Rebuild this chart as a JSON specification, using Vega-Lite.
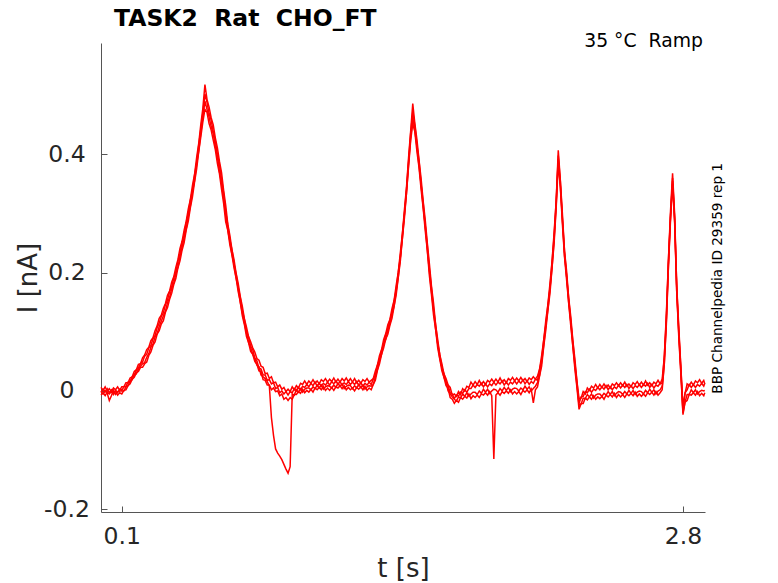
{
  "$schema": "https://vega.github.io/schema/vega-lite/v6.json",
  "description": "TASK2 Rat CHO_FT, 35 C ramp protocol, current traces",
  "width": 604,
  "height": 469,
  "autosize": "none",
  "padding": {"left": 101, "top": 43, "right": 73, "bottom": 71},
  "background": "white",
  "config": {
    "view": {"stroke": null},
    "font": "DejaVu Sans",
    "axis": {
      "grid": false,
      "domainColor": "#555555",
      "tickColor": "#555555",
      "tickSize": -6,
      "labelFont": "DejaVu Sans",
      "labelFontSize": 23.5,
      "labelColor": "#262626",
      "labelFlush": false,
      "labelOverlap": false,
      "titleFont": "DejaVu Sans",
      "titleFontSize": 26,
      "titleFontWeight": "normal",
      "titleColor": "#262626"
    }
  },
  "layer": [
    {
      "data": {
        "values": [
          {"t": 0.00, "a": 0.006, "b": -0.002, "c": -0.001, "d": -0.007},
          {"t": 0.01, "a": 0.001, "b": 0.003, "c": -0.005, "d": -0.003},
          {"t": 0.02, "a": 0.007, "b": -0.001, "c": 0.000, "d": -0.008},
          {"t": 0.03, "a": 0.000, "b": 0.004, "c": -0.004, "d": -0.002},
          {"t": 0.04, "a": 0.004, "b": -0.003, "c": -0.016, "d": -0.005},
          {"t": 0.05, "a": -0.001, "b": 0.002, "c": -0.008, "d": -0.001},
          {"t": 0.06, "a": 0.005, "b": -0.004, "c": 0.001, "d": -0.006},
          {"t": 0.07, "a": 0.002, "b": 0.001, "c": -0.006, "d": 0.000},
          {"t": 0.08, "a": 0.007, "b": -0.002, "c": -0.002, "d": -0.007},
          {"t": 0.09, "a": 0.001, "b": 0.003, "c": 0.000, "d": -0.003},
          {"t": 0.10, "a": 0.007, "b": 0.001, "c": 0.000, "d": -0.005},
          {"t": 0.11, "a": 0.007, "b": 0.007, "c": 0.000, "d": 0.001},
          {"t": 0.12, "a": 0.014, "b": 0.008, "c": 0.007, "d": 0.002},
          {"t": 0.13, "a": 0.014, "b": 0.015, "c": 0.009, "d": 0.009},
          {"t": 0.14, "a": 0.022, "b": 0.016, "c": 0.017, "d": 0.012},
          {"t": 0.15, "a": 0.024, "b": 0.024, "c": 0.019, "d": 0.020},
          {"t": 0.16, "a": 0.033, "b": 0.027, "c": 0.028, "d": 0.023},
          {"t": 0.17, "a": 0.036, "b": 0.035, "c": 0.029, "d": 0.031},
          {"t": 0.18, "a": 0.045, "b": 0.039, "c": 0.037, "d": 0.033},
          {"t": 0.19, "a": 0.046, "b": 0.046, "c": 0.042, "d": 0.040},
          {"t": 0.20, "a": 0.056, "b": 0.049, "c": 0.046, "d": 0.040},
          {"t": 0.21, "a": 0.061, "b": 0.059, "c": 0.048, "d": 0.046},
          {"t": 0.22, "a": 0.070, "b": 0.062, "c": 0.057, "d": 0.049},
          {"t": 0.23, "a": 0.074, "b": 0.073, "c": 0.063, "d": 0.060},
          {"t": 0.24, "a": 0.085, "b": 0.077, "c": 0.074, "d": 0.066},
          {"t": 0.25, "a": 0.090, "b": 0.088, "c": 0.079, "d": 0.077},
          {"t": 0.26, "a": 0.102, "b": 0.094, "c": 0.091, "d": 0.083},
          {"t": 0.27, "a": 0.110, "b": 0.107, "c": 0.097, "d": 0.096},
          {"t": 0.28, "a": 0.123, "b": 0.115, "c": 0.109, "d": 0.102},
          {"t": 0.29, "a": 0.128, "b": 0.126, "c": 0.118, "d": 0.113},
          {"t": 0.30, "a": 0.140, "b": 0.132, "c": 0.127, "d": 0.119},
          {"t": 0.31, "a": 0.148, "b": 0.146, "c": 0.135, "d": 0.133},
          {"t": 0.32, "a": 0.162, "b": 0.154, "c": 0.149, "d": 0.141},
          {"t": 0.33, "a": 0.169, "b": 0.168, "c": 0.158, "d": 0.155},
          {"t": 0.34, "a": 0.184, "b": 0.176, "c": 0.173, "d": 0.165},
          {"t": 0.35, "a": 0.193, "b": 0.191, "c": 0.182, "d": 0.180},
          {"t": 0.36, "a": 0.209, "b": 0.201, "c": 0.198, "d": 0.190},
          {"t": 0.37, "a": 0.222, "b": 0.219, "c": 0.209, "d": 0.208},
          {"t": 0.38, "a": 0.241, "b": 0.233, "c": 0.227, "d": 0.220},
          {"t": 0.39, "a": 0.253, "b": 0.251, "c": 0.243, "d": 0.238},
          {"t": 0.40, "a": 0.272, "b": 0.264, "c": 0.259, "d": 0.251},
          {"t": 0.41, "a": 0.287, "b": 0.285, "c": 0.274, "d": 0.272},
          {"t": 0.42, "a": 0.308, "b": 0.300, "c": 0.295, "d": 0.287},
          {"t": 0.43, "a": 0.324, "b": 0.323, "c": 0.313, "d": 0.310},
          {"t": 0.44, "a": 0.347, "b": 0.339, "c": 0.336, "d": 0.328},
          {"t": 0.45, "a": 0.366, "b": 0.364, "c": 0.355, "d": 0.353},
          {"t": 0.46, "a": 0.394, "b": 0.386, "c": 0.383, "d": 0.375},
          {"t": 0.47, "a": 0.418, "b": 0.415, "c": 0.405, "d": 0.404},
          {"t": 0.48, "a": 0.450, "b": 0.442, "c": 0.436, "d": 0.429},
          {"t": 0.49, "a": 0.478, "b": 0.470, "c": 0.462, "d": 0.455},
          {"t": 0.50, "a": 0.518, "b": 0.502, "c": 0.490, "d": 0.476},
          {"t": 0.51, "a": 0.493, "b": 0.488, "c": 0.476, "d": 0.471},
          {"t": 0.52, "a": 0.480, "b": 0.469, "c": 0.463, "d": 0.452},
          {"t": 0.53, "a": 0.462, "b": 0.458, "c": 0.447, "d": 0.441},
          {"t": 0.54, "a": 0.450, "b": 0.439, "c": 0.435, "d": 0.424},
          {"t": 0.55, "a": 0.428, "b": 0.423, "c": 0.413, "d": 0.408},
          {"t": 0.56, "a": 0.411, "b": 0.400, "c": 0.396, "d": 0.385},
          {"t": 0.57, "a": 0.388, "b": 0.382, "c": 0.371, "d": 0.367},
          {"t": 0.58, "a": 0.369, "b": 0.358, "c": 0.351, "d": 0.341},
          {"t": 0.59, "a": 0.339, "b": 0.334, "c": 0.325, "d": 0.317},
          {"t": 0.60, "a": 0.314, "b": 0.303, "c": 0.297, "d": 0.286},
          {"t": 0.61, "a": 0.282, "b": 0.281, "c": 0.272, "d": 0.272},
          {"t": 0.62, "a": 0.263, "b": 0.256, "c": 0.253, "d": 0.247},
          {"t": 0.63, "a": 0.239, "b": 0.239, "c": 0.231, "d": 0.230},
          {"t": 0.64, "a": 0.222, "b": 0.215, "c": 0.214, "d": 0.208},
          {"t": 0.65, "a": 0.199, "b": 0.198, "c": 0.191, "d": 0.191},
          {"t": 0.66, "a": 0.182, "b": 0.175, "c": 0.174, "d": 0.168},
          {"t": 0.67, "a": 0.160, "b": 0.158, "c": 0.150, "d": 0.151},
          {"t": 0.68, "a": 0.143, "b": 0.136, "c": 0.132, "d": 0.127},
          {"t": 0.69, "a": 0.122, "b": 0.121, "c": 0.115, "d": 0.112},
          {"t": 0.70, "a": 0.108, "b": 0.101, "c": 0.098, "d": 0.092},
          {"t": 0.71, "a": 0.092, "b": 0.091, "c": 0.082, "d": 0.082},
          {"t": 0.72, "a": 0.083, "b": 0.076, "c": 0.073, "d": 0.067},
          {"t": 0.73, "a": 0.073, "b": 0.070, "c": 0.062, "d": 0.062},
          {"t": 0.74, "a": 0.066, "b": 0.056, "c": 0.055, "d": 0.050},
          {"t": 0.75, "a": 0.055, "b": 0.051, "c": 0.044, "d": 0.045},
          {"t": 0.76, "a": 0.052, "b": 0.039, "c": 0.041, "d": 0.034},
          {"t": 0.77, "a": 0.042, "b": 0.037, "c": 0.027, "d": 0.033},
          {"t": 0.78, "a": 0.040, "b": 0.027, "c": 0.024, "d": 0.019},
          {"t": 0.79, "a": 0.029, "b": 0.027, "c": 0.021, "d": 0.018},
          {"t": 0.80, "a": 0.030, "b": 0.018, "c": 0.016, "d": 0.010},
          {"t": 0.81, "a": 0.021, "b": 0.019, "c": 0.008, "d": 0.010},
          {"t": 0.82, "a": 0.024, "b": 0.012, "c": -0.045, "d": 0.002},
          {"t": 0.83, "a": 0.014, "b": 0.014, "c": -0.075, "d": 0.005},
          {"t": 0.84, "a": 0.015, "b": 0.004, "c": -0.098, "d": -0.001},
          {"t": 0.85, "a": 0.007, "b": 0.006, "c": -0.105, "d": 0.000},
          {"t": 0.86, "a": 0.010, "b": -0.003, "c": -0.110, "d": -0.008},
          {"t": 0.87, "a": 0.003, "b": 0.000, "c": -0.116, "d": -0.005},
          {"t": 0.88, "a": 0.006, "b": -0.005, "c": -0.124, "d": -0.014},
          {"t": 0.89, "a": -0.001, "b": -0.001, "c": -0.132, "d": -0.011},
          {"t": 0.90, "a": 0.003, "b": -0.007, "c": -0.139, "d": -0.016},
          {"t": 0.91, "a": -0.001, "b": -0.001, "c": -0.128, "d": -0.011},
          {"t": 0.92, "a": 0.007, "b": -0.003, "c": -0.005, "d": -0.014},
          {"t": 0.93, "a": 0.002, "b": 0.004, "c": -0.007, "d": -0.006},
          {"t": 0.94, "a": 0.009, "b": 0.000, "c": 0.002, "d": -0.006},
          {"t": 0.95, "a": 0.005, "b": 0.006, "c": -0.002, "d": -0.001},
          {"t": 0.96, "a": 0.013, "b": 0.002, "c": 0.004, "d": -0.004},
          {"t": 0.97, "a": 0.011, "b": 0.008, "c": -0.002, "d": 0.003},
          {"t": 0.98, "a": 0.017, "b": 0.006, "c": 0.003, "d": -0.003},
          {"t": 0.99, "a": 0.011, "b": 0.011, "c": 0.005, "d": 0.001},
          {"t": 1.00, "a": 0.017, "b": 0.007, "c": 0.005, "d": -0.002},
          {"t": 1.01, "a": 0.013, "b": 0.013, "c": 0.002, "d": 0.003},
          {"t": 1.02, "a": 0.019, "b": 0.009, "c": 0.007, "d": -0.002},
          {"t": 1.03, "a": 0.013, "b": 0.015, "c": 0.004, "d": 0.005},
          {"t": 1.04, "a": 0.017, "b": 0.008, "c": 0.010, "d": 0.002},
          {"t": 1.05, "a": 0.012, "b": 0.013, "c": 0.005, "d": 0.006},
          {"t": 1.06, "a": 0.019, "b": 0.008, "c": 0.010, "d": 0.002},
          {"t": 1.07, "a": 0.016, "b": 0.013, "c": 0.003, "d": 0.008},
          {"t": 1.08, "a": 0.021, "b": 0.010, "c": 0.007, "d": 0.001},
          {"t": 1.09, "a": 0.015, "b": 0.015, "c": 0.009, "d": 0.005},
          {"t": 1.10, "a": 0.020, "b": 0.010, "c": 0.008, "d": 0.001},
          {"t": 1.11, "a": 0.016, "b": 0.016, "c": 0.005, "d": 0.006},
          {"t": 1.12, "a": 0.022, "b": 0.012, "c": 0.010, "d": 0.001},
          {"t": 1.13, "a": 0.015, "b": 0.017, "c": 0.006, "d": 0.007},
          {"t": 1.14, "a": 0.020, "b": 0.011, "c": 0.013, "d": 0.005},
          {"t": 1.15, "a": 0.015, "b": 0.016, "c": 0.008, "d": 0.009},
          {"t": 1.16, "a": 0.021, "b": 0.010, "c": 0.012, "d": 0.004},
          {"t": 1.17, "a": 0.017, "b": 0.014, "c": 0.004, "d": 0.009},
          {"t": 1.18, "a": 0.022, "b": 0.011, "c": 0.008, "d": 0.002},
          {"t": 1.19, "a": 0.016, "b": 0.016, "c": 0.010, "d": 0.006},
          {"t": 1.20, "a": 0.021, "b": 0.011, "c": 0.009, "d": 0.002},
          {"t": 1.21, "a": 0.015, "b": 0.015, "c": 0.004, "d": 0.005},
          {"t": 1.22, "a": 0.021, "b": 0.011, "c": 0.009, "d": 0.000},
          {"t": 1.23, "a": 0.014, "b": 0.016, "c": 0.005, "d": 0.006},
          {"t": 1.24, "a": 0.018, "b": 0.009, "c": 0.011, "d": 0.003},
          {"t": 1.25, "a": 0.013, "b": 0.014, "c": 0.006, "d": 0.007},
          {"t": 1.26, "a": 0.019, "b": 0.008, "c": 0.010, "d": 0.002},
          {"t": 1.27, "a": 0.016, "b": 0.013, "c": 0.003, "d": 0.008},
          {"t": 1.28, "a": 0.021, "b": 0.010, "c": 0.007, "d": 0.001},
          {"t": 1.29, "a": 0.015, "b": 0.015, "c": 0.009, "d": 0.005},
          {"t": 1.30, "a": 0.018, "b": 0.011, "c": 0.008, "d": 0.002},
          {"t": 1.31, "a": 0.021, "b": 0.020, "c": 0.011, "d": 0.011},
          {"t": 1.32, "a": 0.034, "b": 0.027, "c": 0.024, "d": 0.018},
          {"t": 1.33, "a": 0.044, "b": 0.044, "c": 0.036, "d": 0.035},
          {"t": 1.34, "a": 0.060, "b": 0.053, "c": 0.052, "d": 0.046},
          {"t": 1.35, "a": 0.070, "b": 0.069, "c": 0.062, "d": 0.062},
          {"t": 1.36, "a": 0.087, "b": 0.080, "c": 0.079, "d": 0.073},
          {"t": 1.37, "a": 0.097, "b": 0.095, "c": 0.087, "d": 0.088},
          {"t": 1.38, "a": 0.112, "b": 0.105, "c": 0.101, "d": 0.096},
          {"t": 1.39, "a": 0.121, "b": 0.120, "c": 0.114, "d": 0.111},
          {"t": 1.40, "a": 0.139, "b": 0.132, "c": 0.129, "d": 0.123},
          {"t": 1.41, "a": 0.153, "b": 0.152, "c": 0.143, "d": 0.143},
          {"t": 1.42, "a": 0.178, "b": 0.171, "c": 0.168, "d": 0.162},
          {"t": 1.43, "a": 0.200, "b": 0.200, "c": 0.192, "d": 0.191},
          {"t": 1.44, "a": 0.233, "b": 0.226, "c": 0.225, "d": 0.219},
          {"t": 1.45, "a": 0.266, "b": 0.265, "c": 0.258, "d": 0.258},
          {"t": 1.46, "a": 0.307, "b": 0.300, "c": 0.299, "d": 0.293},
          {"t": 1.47, "a": 0.345, "b": 0.343, "c": 0.335, "d": 0.336},
          {"t": 1.48, "a": 0.396, "b": 0.389, "c": 0.385, "d": 0.380},
          {"t": 1.49, "a": 0.440, "b": 0.436, "c": 0.428, "d": 0.424},
          {"t": 1.50, "a": 0.486, "b": 0.472, "c": 0.462, "d": 0.452},
          {"t": 1.51, "a": 0.452, "b": 0.449, "c": 0.440, "d": 0.438},
          {"t": 1.52, "a": 0.425, "b": 0.416, "c": 0.413, "d": 0.405},
          {"t": 1.53, "a": 0.391, "b": 0.389, "c": 0.381, "d": 0.378},
          {"t": 1.54, "a": 0.359, "b": 0.350, "c": 0.349, "d": 0.341},
          {"t": 1.55, "a": 0.321, "b": 0.318, "c": 0.311, "d": 0.309},
          {"t": 1.56, "a": 0.289, "b": 0.280, "c": 0.279, "d": 0.271},
          {"t": 1.57, "a": 0.250, "b": 0.246, "c": 0.238, "d": 0.237},
          {"t": 1.58, "a": 0.215, "b": 0.206, "c": 0.202, "d": 0.195},
          {"t": 1.59, "a": 0.177, "b": 0.174, "c": 0.168, "d": 0.163},
          {"t": 1.60, "a": 0.148, "b": 0.139, "c": 0.136, "d": 0.128},
          {"t": 1.61, "a": 0.112, "b": 0.112, "c": 0.104, "d": 0.104},
          {"t": 1.62, "a": 0.087, "b": 0.081, "c": 0.079, "d": 0.073},
          {"t": 1.63, "a": 0.061, "b": 0.062, "c": 0.055, "d": 0.054},
          {"t": 1.64, "a": 0.046, "b": 0.040, "c": 0.040, "d": 0.034},
          {"t": 1.65, "a": 0.029, "b": 0.029, "c": 0.023, "d": 0.023},
          {"t": 1.66, "a": 0.021, "b": 0.015, "c": 0.015, "d": 0.009},
          {"t": 1.67, "a": 0.010, "b": 0.009, "c": 0.000, "d": 0.005},
          {"t": 1.68, "a": 0.006, "b": -0.003, "c": -0.005, "d": -0.011},
          {"t": 1.69, "a": -0.007, "b": -0.005, "c": -0.010, "d": -0.014},
          {"t": 1.70, "a": -0.005, "b": -0.013, "c": -0.014, "d": -0.021},
          {"t": 1.71, "a": -0.009, "b": -0.007, "c": -0.017, "d": -0.016},
          {"t": 1.72, "a": -0.001, "b": -0.009, "c": -0.010, "d": -0.019},
          {"t": 1.73, "a": -0.006, "b": -0.002, "c": -0.012, "d": -0.011},
          {"t": 1.74, "a": 0.004, "b": -0.004, "c": -0.005, "d": -0.014},
          {"t": 1.75, "a": 0.000, "b": 0.002, "c": -0.009, "d": -0.009},
          {"t": 1.76, "a": 0.008, "b": -0.002, "c": -0.003, "d": -0.012},
          {"t": 1.77, "a": 0.006, "b": 0.004, "c": -0.009, "d": -0.005},
          {"t": 1.78, "a": 0.015, "b": 0.004, "c": -0.005, "d": -0.013},
          {"t": 1.79, "a": 0.010, "b": 0.010, "c": -0.002, "d": -0.008},
          {"t": 1.80, "a": 0.016, "b": 0.006, "c": -0.002, "d": -0.011},
          {"t": 1.81, "a": 0.011, "b": 0.011, "c": -0.006, "d": -0.007},
          {"t": 1.82, "a": 0.018, "b": 0.008, "c": 0.000, "d": -0.011},
          {"t": 1.83, "a": 0.011, "b": 0.013, "c": -0.004, "d": -0.005},
          {"t": 1.84, "a": 0.016, "b": 0.007, "c": 0.003, "d": -0.007},
          {"t": 1.85, "a": 0.011, "b": 0.012, "c": -0.002, "d": -0.003},
          {"t": 1.86, "a": 0.018, "b": 0.007, "c": 0.003, "d": -0.007},
          {"t": 1.87, "a": 0.015, "b": 0.012, "c": -0.004, "d": -0.001},
          {"t": 1.88, "a": 0.020, "b": 0.009, "c": 0.000, "d": -0.008},
          {"t": 1.89, "a": 0.015, "b": 0.015, "c": 0.003, "d": -0.115},
          {"t": 1.90, "a": 0.020, "b": 0.010, "c": 0.002, "d": -0.007},
          {"t": 1.91, "a": 0.015, "b": 0.015, "c": -0.002, "d": -0.003},
          {"t": 1.92, "a": 0.022, "b": 0.012, "c": 0.004, "d": -0.007},
          {"t": 1.93, "a": 0.015, "b": 0.017, "c": 0.000, "d": -0.001},
          {"t": 1.94, "a": 0.019, "b": 0.010, "c": 0.006, "d": -0.004},
          {"t": 1.95, "a": 0.014, "b": 0.015, "c": 0.001, "d": 0.000},
          {"t": 1.96, "a": 0.021, "b": 0.010, "c": 0.006, "d": -0.004},
          {"t": 1.97, "a": 0.018, "b": 0.015, "c": -0.001, "d": 0.002},
          {"t": 1.98, "a": 0.023, "b": 0.012, "c": 0.003, "d": -0.005},
          {"t": 1.99, "a": 0.017, "b": 0.017, "c": 0.005, "d": -0.001},
          {"t": 2.00, "a": 0.022, "b": 0.012, "c": 0.004, "d": -0.005},
          {"t": 2.01, "a": 0.017, "b": 0.017, "c": 0.000, "d": -0.001},
          {"t": 2.02, "a": 0.023, "b": 0.013, "c": 0.005, "d": -0.006},
          {"t": 2.03, "a": 0.017, "b": 0.019, "c": 0.002, "d": 0.001},
          {"t": 2.04, "a": 0.021, "b": 0.012, "c": 0.008, "d": -0.002},
          {"t": 2.05, "a": 0.016, "b": 0.017, "c": 0.003, "d": 0.002},
          {"t": 2.06, "a": 0.022, "b": 0.011, "c": 0.007, "d": -0.003},
          {"t": 2.07, "a": 0.019, "b": 0.016, "c": 0.000, "d": 0.003},
          {"t": 2.08, "a": 0.024, "b": 0.013, "c": 0.004, "d": -0.020},
          {"t": 2.09, "a": 0.020, "b": 0.020, "c": 0.008, "d": 0.002},
          {"t": 2.10, "a": 0.025, "b": 0.018, "c": 0.014, "d": 0.007},
          {"t": 2.11, "a": 0.037, "b": 0.036, "c": 0.026, "d": 0.025},
          {"t": 2.12, "a": 0.060, "b": 0.053, "c": 0.049, "d": 0.042},
          {"t": 2.13, "a": 0.086, "b": 0.086, "c": 0.077, "d": 0.075},
          {"t": 2.14, "a": 0.119, "b": 0.112, "c": 0.110, "d": 0.103},
          {"t": 2.15, "a": 0.146, "b": 0.145, "c": 0.137, "d": 0.136},
          {"t": 2.16, "a": 0.181, "b": 0.174, "c": 0.172, "d": 0.165},
          {"t": 2.17, "a": 0.219, "b": 0.217, "c": 0.208, "d": 0.208},
          {"t": 2.18, "a": 0.268, "b": 0.261, "c": 0.256, "d": 0.250},
          {"t": 2.19, "a": 0.322, "b": 0.321, "c": 0.314, "d": 0.310},
          {"t": 2.20, "a": 0.407, "b": 0.398, "c": 0.392, "d": 0.385},
          {"t": 2.21, "a": 0.356, "b": 0.355, "c": 0.346, "d": 0.345},
          {"t": 2.22, "a": 0.299, "b": 0.291, "c": 0.289, "d": 0.282},
          {"t": 2.23, "a": 0.237, "b": 0.237, "c": 0.229, "d": 0.227},
          {"t": 2.24, "a": 0.203, "b": 0.195, "c": 0.195, "d": 0.188},
          {"t": 2.25, "a": 0.158, "b": 0.157, "c": 0.150, "d": 0.149},
          {"t": 2.26, "a": 0.126, "b": 0.119, "c": 0.118, "d": 0.111},
          {"t": 2.27, "a": 0.086, "b": 0.084, "c": 0.076, "d": 0.076},
          {"t": 2.28, "a": 0.054, "b": 0.047, "c": 0.043, "d": 0.037},
          {"t": 2.29, "a": 0.016, "b": 0.015, "c": 0.009, "d": 0.005},
          {"t": 2.30, "a": -0.013, "b": -0.021, "c": -0.024, "d": -0.031},
          {"t": 2.31, "a": -0.012, "b": -0.010, "c": -0.022, "d": -0.021},
          {"t": 2.32, "a": -0.001, "b": -0.009, "c": -0.012, "d": -0.021},
          {"t": 2.33, "a": -0.005, "b": -0.001, "c": -0.013, "d": -0.012},
          {"t": 2.34, "a": 0.005, "b": -0.003, "c": -0.006, "d": -0.015},
          {"t": 2.35, "a": 0.001, "b": 0.003, "c": -0.010, "d": -0.010},
          {"t": 2.36, "a": 0.008, "b": -0.002, "c": -0.005, "d": -0.014},
          {"t": 2.37, "a": 0.005, "b": 0.003, "c": -0.012, "d": -0.008},
          {"t": 2.38, "a": 0.011, "b": 0.001, "c": -0.007, "d": -0.014},
          {"t": 2.39, "a": 0.005, "b": 0.006, "c": -0.005, "d": -0.010},
          {"t": 2.40, "a": 0.011, "b": 0.002, "c": -0.005, "d": -0.013},
          {"t": 2.41, "a": 0.006, "b": 0.007, "c": -0.009, "d": -0.009},
          {"t": 2.42, "a": 0.012, "b": 0.003, "c": -0.004, "d": -0.014},
          {"t": 2.43, "a": 0.006, "b": 0.009, "c": -0.007, "d": -0.007},
          {"t": 2.44, "a": 0.010, "b": 0.002, "c": -0.001, "d": -0.010},
          {"t": 2.45, "a": 0.005, "b": 0.007, "c": -0.006, "d": -0.006},
          {"t": 2.46, "a": 0.012, "b": 0.002, "c": -0.001, "d": -0.010},
          {"t": 2.47, "a": 0.009, "b": 0.007, "c": -0.008, "d": -0.004},
          {"t": 2.48, "a": 0.014, "b": 0.004, "c": -0.004, "d": -0.011},
          {"t": 2.49, "a": 0.009, "b": 0.010, "c": -0.001, "d": -0.006},
          {"t": 2.50, "a": 0.014, "b": 0.005, "c": -0.002, "d": -0.010},
          {"t": 2.51, "a": 0.009, "b": 0.010, "c": -0.006, "d": -0.006},
          {"t": 2.52, "a": 0.015, "b": 0.006, "c": -0.001, "d": -0.011},
          {"t": 2.53, "a": 0.008, "b": 0.011, "c": -0.005, "d": -0.005},
          {"t": 2.54, "a": 0.012, "b": 0.004, "c": 0.001, "d": -0.008},
          {"t": 2.55, "a": 0.007, "b": 0.009, "c": -0.004, "d": -0.004},
          {"t": 2.56, "a": 0.014, "b": 0.004, "c": 0.001, "d": -0.008},
          {"t": 2.57, "a": 0.011, "b": 0.009, "c": -0.006, "d": -0.002},
          {"t": 2.58, "a": 0.016, "b": 0.006, "c": -0.002, "d": -0.009},
          {"t": 2.59, "a": 0.010, "b": 0.011, "c": 0.000, "d": -0.005},
          {"t": 2.60, "a": 0.015, "b": 0.006, "c": -0.001, "d": -0.009},
          {"t": 2.61, "a": 0.010, "b": 0.011, "c": -0.005, "d": -0.005},
          {"t": 2.62, "a": 0.017, "b": 0.008, "c": 0.001, "d": -0.009},
          {"t": 2.63, "a": 0.010, "b": 0.013, "c": -0.003, "d": -0.003},
          {"t": 2.64, "a": 0.014, "b": 0.006, "c": 0.003, "d": -0.006},
          {"t": 2.65, "a": 0.009, "b": 0.011, "c": -0.002, "d": -0.002},
          {"t": 2.66, "a": 0.015, "b": 0.005, "c": 0.002, "d": -0.007},
          {"t": 2.67, "a": 0.012, "b": 0.010, "c": -0.005, "d": -0.001},
          {"t": 2.68, "a": 0.018, "b": 0.008, "c": 0.000, "d": -0.007},
          {"t": 2.69, "a": 0.012, "b": 0.013, "c": 0.002, "d": -0.003},
          {"t": 2.70, "a": 0.020, "b": 0.013, "c": 0.008, "d": 0.002},
          {"t": 2.71, "a": 0.057, "b": 0.056, "c": 0.045, "d": 0.045},
          {"t": 2.72, "a": 0.130, "b": 0.123, "c": 0.118, "d": 0.112},
          {"t": 2.73, "a": 0.221, "b": 0.221, "c": 0.211, "d": 0.210},
          {"t": 2.74, "a": 0.304, "b": 0.295, "c": 0.294, "d": 0.288},
          {"t": 2.75, "a": 0.368, "b": 0.360, "c": 0.355, "d": 0.350},
          {"t": 2.76, "a": 0.298, "b": 0.291, "c": 0.289, "d": 0.283},
          {"t": 2.77, "a": 0.178, "b": 0.176, "c": 0.167, "d": 0.168},
          {"t": 2.78, "a": 0.107, "b": 0.100, "c": 0.096, "d": 0.090},
          {"t": 2.79, "a": 0.039, "b": 0.038, "c": 0.031, "d": 0.028},
          {"t": 2.80, "a": -0.026, "b": -0.034, "c": -0.037, "d": -0.040},
          {"t": 2.81, "a": -0.004, "b": -0.003, "c": -0.019, "d": -0.019},
          {"t": 2.82, "a": 0.012, "b": 0.002, "c": -0.006, "d": -0.016},
          {"t": 2.83, "a": 0.009, "b": 0.011, "c": -0.006, "d": -0.006},
          {"t": 2.84, "a": 0.015, "b": 0.006, "c": 0.002, "d": -0.007},
          {"t": 2.85, "a": 0.010, "b": 0.011, "c": -0.003, "d": -0.003},
          {"t": 2.86, "a": 0.017, "b": 0.006, "c": 0.002, "d": -0.007},
          {"t": 2.87, "a": 0.014, "b": 0.011, "c": -0.005, "d": -0.001},
          {"t": 2.88, "a": 0.019, "b": 0.008, "c": -0.001, "d": -0.008},
          {"t": 2.89, "a": 0.013, "b": 0.013, "c": 0.001, "d": -0.004},
          {"t": 2.90, "a": 0.018, "b": 0.008, "c": 0.000, "d": -0.008},
          {"t": 2.905, "a": 0.012, "b": 0.013, "c": 0.001, "d": -0.003}
        ]
      },
      "transform": [{"fold": ["a", "b", "c", "d"], "as": ["trace", "I"]}],
      "mark": {"type": "line", "color": "#ff0000", "strokeWidth": 1.5},
      "encoding": {
        "x": {
          "field": "t",
          "type": "quantitative",
          "scale": {"domain": [0, 2.906], "nice": false, "zero": false},
          "axis": {
            "title": "t [s]",
            "values": [0.1, 2.8],
            "labelExpr": "datum.value + ''",
            "labelPadding": 18,
            "titleY": 64,
            "titleBaseline": "alphabetic"
          }
        },
        "y": {
          "field": "I",
          "type": "quantitative",
          "scale": {"domain": [-0.2046, 0.5883], "nice": false, "zero": false},
          "axis": {
            "title": "I [nA]",
            "values": [-0.2, 0, 0.2, 0.4],
            "labelExpr": "datum.value == 0 ? '0\u00a0' : datum.value < 0 ? '\u00a0' + datum.value : datum.value + ''",
            "labelAlign": "center",
            "labelBaseline": "middle",
            "labelPadding": 40.5,
            "titleX": -65,
            "titleBaseline": "alphabetic"
          }
        },
        "detail": {"field": "trace", "type": "nominal"}
      }
    },
    {
      "data": {"values": [{"note": "TASK2 \u00a0Rat \u00a0CHO_FT"}]},
      "mark": {
        "type": "text",
        "align": "left",
        "baseline": "alphabetic",
        "font": "DejaVu Sans",
        "fontSize": 23.5,
        "fontWeight": "bold",
        "color": "black"
      },
      "encoding": {
        "text": {"field": "note", "type": "nominal"},
        "x": {"datum": 0.0625},
        "y": {"datum": 0.6171}
      }
    },
    {
      "data": {"values": [{"note": "35 °C \u00a0Ramp"}]},
      "mark": {
        "type": "text",
        "align": "right",
        "baseline": "alphabetic",
        "font": "DejaVu Sans",
        "fontSize": 18.8,
        "color": "black"
      },
      "encoding": {
        "text": {"field": "note", "type": "nominal"},
        "x": {"datum": 2.896},
        "y": {"datum": 0.582}
      }
    },
    {
      "data": {"values": [{"note": "BBP Channelpedia ID 29359 rep 1"}]},
      "mark": {
        "type": "text",
        "angle": 270,
        "align": "center",
        "baseline": "alphabetic",
        "font": "DejaVu Sans",
        "fontSize": 13.6,
        "color": "black"
      },
      "encoding": {
        "text": {"field": "note", "type": "nominal"},
        "x": {"datum": 2.988},
        "y": {"datum": 0.1905}
      }
    }
  ]
}
